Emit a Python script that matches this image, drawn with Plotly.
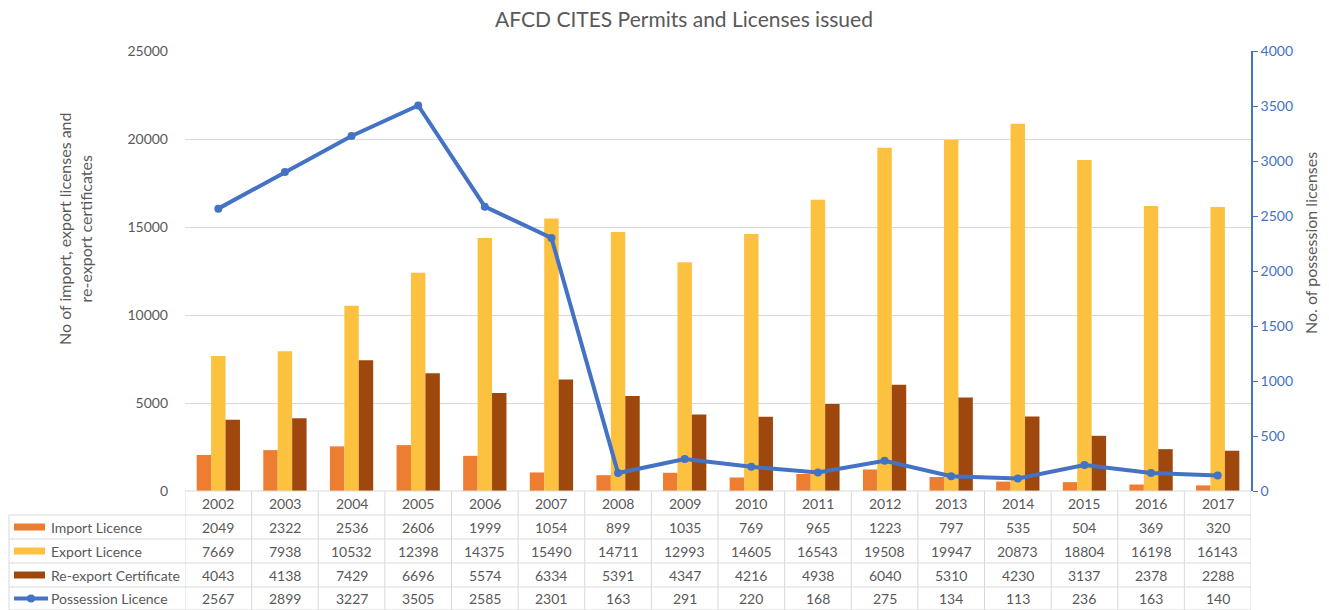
import plotly.graph_objects as go

years = ["2002","2003","2004","2005","2006","2007","2008","2009","2010","2011","2012","2013","2014","2015","2016","2017"]
import_lic = [2049,2322,2536,2606,1999,1054,899,1035,769,965,1223,797,535,504,369,320]
export_lic = [7669,7938,10532,12398,14375,15490,14711,12993,14605,16543,19508,19947,20873,18804,16198,16143]
reexport_cert = [4043,4138,7429,6696,5574,6334,5391,4347,4216,4938,6040,5310,4230,3137,2378,2288]
possession_lic = [2567,2899,3227,3505,2585,2301,163,291,220,168,275,134,113,236,163,140]

series_names = ["Import Licence", "Export Licence", "Re-export Certificate", "Possession Licence"]
colors = ["#ED7D31", "#FBC13F", "#9E480E", "#4472C4"]

W, H = 1329, 610
L, R, T, B = 185, 1251, 51, 491
FONT = "Lato"
GRAY = "#595959"
GRID = "#D9D9D9"

def py(p):  # pixel y -> paper y
    return (B - p) / (B - T)

def px(p):  # pixel x -> paper x
    return (p - L) / (R - L)

fig = go.Figure()
for name, vals, c in zip(series_names[:3], [import_lic, export_lic, reexport_cert], colors[:3]):
    fig.add_trace(go.Bar(x=years, y=vals, name=name, marker=dict(color=c, line=dict(width=0))))
fig.add_trace(go.Scatter(x=years, y=possession_lic, name=series_names[3], yaxis="y2",
                         mode="lines+markers", line=dict(color=colors[3], width=4),
                         marker=dict(size=8, color=colors[3])))

shapes = []
annotations = []
row_tops = [491, 515, 539, 563, 587, 610]
shapes.append(dict(type="line", xref="paper", yref="paper", x0=0, x1=1, y0=py(491), y1=py(491),
                   line=dict(color=GRID, width=1)))
for r in row_tops[1:]:
    shapes.append(dict(type="line", xref="paper", yref="paper", x0=px(9), x1=1, y0=py(r), y1=py(r),
                       line=dict(color=GRID, width=1)))
for i in range(len(years) + 1):
    shapes.append(dict(type="line", xref="x", yref="paper", x0=i - 0.5, x1=i - 0.5,
                       y0=py(491), y1=py(611), line=dict(color=GRID, width=1)))
shapes.append(dict(type="line", xref="paper", yref="paper", x0=px(9), x1=px(9),
                   y0=py(515), y1=py(611), line=dict(color=GRID, width=1)))

TS = 14
for i, yr in enumerate(years):
    annotations.append(dict(x=i, xref="x", y=py(503), yref="paper", text=yr, showarrow=False,
                            font=dict(family=FONT, size=TS, color=GRAY), xanchor="center", yanchor="middle"))

data_rows = [import_lic, export_lic, reexport_cert, possession_lic]
for k, (name, vals) in enumerate(zip(series_names, data_rows)):
    cy = (row_tops[k + 1] + row_tops[k + 2]) / 2
    for i, v in enumerate(vals):
        annotations.append(dict(x=i, xref="x", y=py(cy), yref="paper", text=str(v), showarrow=False,
                                font=dict(family=FONT, size=TS, color=GRAY), xanchor="center", yanchor="middle"))
    annotations.append(dict(x=px(49), xref="paper", y=py(cy), yref="paper", text=name, showarrow=False,
                            font=dict(family=FONT, size=TS, color=GRAY), xanchor="left", yanchor="middle"))
    if k < 3:
        shapes.append(dict(type="rect", xref="paper", yref="paper", x0=px(14), x1=px(45),
                           y0=py(cy + 3.5), y1=py(cy - 3.5), fillcolor=colors[k], line=dict(width=0)))
    else:
        shapes.append(dict(type="line", xref="paper", yref="paper", x0=px(14), x1=px(48),
                           y0=py(cy), y1=py(cy), line=dict(color=colors[k], width=4)))
        shapes.append(dict(type="circle", xref="paper", yref="paper", x0=px(27), x1=px(35),
                           y0=py(cy + 4), y1=py(cy - 4), fillcolor=colors[k], line=dict(width=0)))

# axis titles
annotations.append(dict(x=px(75), xref="paper", y=py(229), yref="paper", textangle=-90,
                        text="No of import, export licenses and<br>re-export certificates", showarrow=False,
                        font=dict(family=FONT, size=16, color=GRAY), xanchor="center", yanchor="middle"))
annotations.append(dict(x=px(1310), xref="paper", y=py(243), yref="paper", textangle=-90,
                        text="No. of possession licenses", showarrow=False,
                        font=dict(family=FONT, size=16, color=GRAY), xanchor="center", yanchor="middle"))

fig.update_layout(
    width=W, height=H,
    margin=dict(l=L, r=W - R, t=T, b=H - B),
    paper_bgcolor="white", plot_bgcolor="white",
    barmode="group", bargap=0.35, bargroupgap=0,
    showlegend=False,
    title=dict(text="AFCD CITES Permits and Licenses issued", x=684 / W, xanchor="center",
               y=1 - 20 / H, yanchor="middle", font=dict(family=FONT, size=21, color=GRAY)),
    xaxis=dict(type="category", range=[-0.5, 15.5], showticklabels=False, showgrid=False,
               showline=False, zeroline=False, ticks=""),
    yaxis=dict(range=[0, 25000], dtick=5000, tickformat="d", gridcolor=GRID, gridwidth=1, zeroline=False,
               showline=False, ticks="", ticklabelstandoff=16, tickfont=dict(family=FONT, size=14, color=GRAY)),
    yaxis2=dict(overlaying="y", side="right", range=[0, 4000], dtick=500, showgrid=False,
                zeroline=False, showline=True, linecolor="#4472C4", linewidth=1.5,
                ticks="outside", ticklen=5, tickcolor="#4472C4",
                tickfont=dict(family=FONT, size=14, color="#4472C4")),
    shapes=shapes, annotations=annotations,
)

fig.write_html("out.html", config={"displayModeBar": False},
               post_script="document.body.style.margin='0';document.body.style.overflow='hidden';")
